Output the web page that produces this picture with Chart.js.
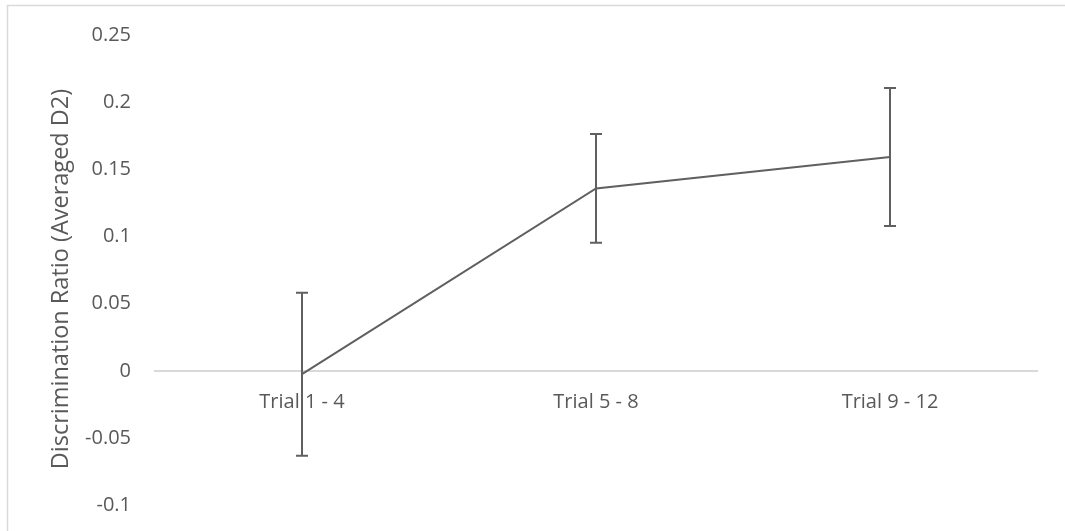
<!DOCTYPE html>
<html>
<head>
<meta charset="utf-8">
<script src="https://cdn.jsdelivr.net/npm/chart.js@4/dist/chart.umd.min.js"></script>
<style>
  html, body { margin: 0; padding: 0; background: #ffffff; }
  #wrap { width: 1065px; height: 531px; position: relative; }
</style>
</head>
<body>
<div id="wrap"><canvas id="c" width="1065" height="531"></canvas></div>
<script>
const categories = ['Trial 1 - 4', 'Trial 5 - 8', 'Trial 9 - 12'];
const meanValues = [-0.0025, 0.136, 0.1594];
const errorValues = [0.0608, 0.0405, 0.0514];
const yTicks = [-0.1, -0.05, 0, 0.05, 0.1, 0.15, 0.2, 0.25];
const yTitle = 'Discrimination Ratio (Averaged D2)';

const TEXT = '#595959';
const LINE = '#606060';
const FONT = "'Open Sans', 'Liberation Sans', sans-serif";

const frame = {
  id: 'frame',
  beforeDraw(chart) {
    const ctx = chart.ctx;
    ctx.save();
    ctx.strokeStyle = '#d9d9d9';
    ctx.lineWidth = 1.5;
    ctx.beginPath();
    ctx.moveTo(7.5, 540);
    ctx.lineTo(7.5, 5.5);
    ctx.lineTo(1070, 5.5);
    ctx.stroke();
    ctx.restore();
  }
};

const errorBars = {
  id: 'errorBars',
  afterDatasetsDraw(chart) {
    const ctx = chart.ctx;
    const xs = chart.scales.x, ys = chart.scales.y;
    ctx.save();
    ctx.strokeStyle = LINE;
    ctx.lineWidth = 2;
    meanValues.forEach((m, i) => {
      const x = xs.getPixelForValue(i);
      const yt = ys.getPixelForValue(m + errorValues[i]);
      const yb = ys.getPixelForValue(m - errorValues[i]);
      ctx.beginPath();
      ctx.moveTo(x, yt); ctx.lineTo(x, yb);
      ctx.moveTo(x - 6, yt); ctx.lineTo(x + 6, yt);
      ctx.moveTo(x - 6, yb); ctx.lineTo(x + 6, yb);
      ctx.stroke();
    });
    ctx.restore();
  }
};

const axisTitle = {
  id: 'axisTitle',
  afterDraw(chart) {
    const ctx = chart.ctx;
    ctx.save();
    ctx.fillStyle = TEXT;
    ctx.font = "23.5px " + FONT;
    ctx.translate(61, 279);
    ctx.rotate(-Math.PI / 2);
    ctx.textAlign = 'center';
    ctx.textBaseline = 'middle';
    ctx.fillText(yTitle, 0, 0);
    ctx.restore();
  }
};

new Chart(document.getElementById('c'), {
  type: 'line',
  data: {
    labels: categories,
    datasets: [{
      data: meanValues,
      borderColor: LINE,
      borderWidth: 2,
      pointRadius: 0,
      tension: 0,
      fill: false
    }]
  },
  options: {
    responsive: false,
    animation: false,
    devicePixelRatio: 1,
    layout: { padding: { top: 35.5, bottom: 26, right: 28, left: 0 } },
    plugins: { legend: { display: false }, tooltip: { enabled: false } },
    scales: {
      x: {
        type: 'category',
        offset: true,
        position: { y: 0 },
        grid: { display: false, drawTicks: false },
        border: { display: true, color: '#d9d9d9', width: 2 },
        ticks: { color: TEXT, font: { family: FONT, size: 20 }, padding: 19, maxRotation: 0 }
      },
      y: {
        type: 'linear',
        min: -0.1,
        max: 0.25,
        afterBuildTicks(scale) { scale.ticks = yTicks.map(v => ({ value: v })); },
        afterFit(scale) { scale.width = 155; scale.paddingTop = 12; scale.paddingBottom = 12; },
        grid: { display: false, drawTicks: false },
        border: { display: false },
        ticks: {
          color: TEXT,
          font: { family: FONT, size: 20 },
          padding: 24,
          callback: (v) => String(Math.round(v * 100) / 100)
        }
      }
    }
  },
  plugins: [frame, errorBars, axisTitle]
});
</script>
</body>
</html>
